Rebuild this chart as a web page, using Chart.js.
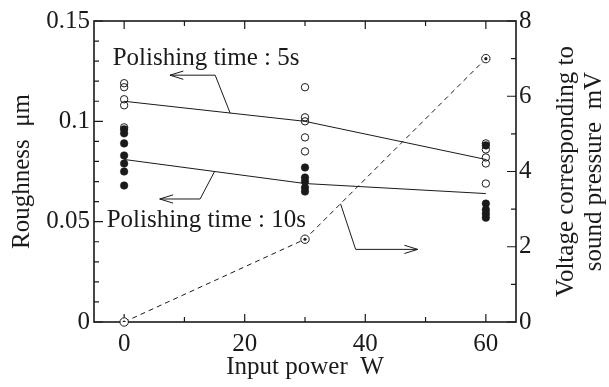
<!DOCTYPE html>
<html>
<head>
<meta charset="utf-8">
<script src="https://cdn.jsdelivr.net/npm/chart.js@4"></script>
<style>
  html, body { margin: 0; padding: 0; background: #fff; }
  #chart { display: block; }
</style>
</head>
<body>
<canvas id="chart" width="609" height="387"></canvas>
<script>
// data
const powerLevels = [0, 30, 60];
const rough5s = [
  [0.119, 0.117, 0.111, 0.108, 0.097],
  [0.117, 0.102, 0.100, 0.092, 0.085],
  [0.089, 0.086, 0.082, 0.079, 0.069]
];
const rough10s = [
  [0.096, 0.094, 0.089, 0.083, 0.079, 0.075, 0.068],
  [0.077, 0.072, 0.070, 0.067, 0.065],
  [0.088, 0.059, 0.056, 0.054, 0.052]
];
const mean5s = [0.110, 0.100, 0.081];
const mean10s = [0.081, 0.069, 0.064];
const voltage = [0, 2.2, 7.0];
const xTicks = [0, 20, 40, 60];
const yTicks = [0, 0.05, 0.1, 0.15];
const y2Ticks = [0, 2, 4, 6, 8];

const ink = '#1a1a1a';
const serif = '"Liberation Serif", "Times New Roman", serif';
const font = { family: serif, size: 25 };

const toPoints = (xs, ys) => xs.map((x, i) => ({ x: x, y: ys[i] }));
const spread = (groups) => powerLevels.flatMap((p, i) => groups[i].map(v => ({ x: p, y: v })));

// frame, inside ticks (under the marks), then arrows and notes on top
const decor = {
  id: 'decor',
  beforeDatasetsDraw(chart) {
    const ctx = chart.ctx;
    const a = chart.chartArea;
    const sx = chart.scales.x, sy = chart.scales.y, sy2 = chart.scales.y2;
    ctx.save();
    ctx.strokeStyle = ink;
    ctx.lineWidth = 1.6;
    ctx.strokeRect(a.left, a.top, a.right - a.left, a.bottom - a.top);

    ctx.lineWidth = 1.2;
    ctx.beginPath();
    for (let v = 0; v <= 60; v += 10) {
      const X = sx.getPixelForValue(v);
      const len = v % 20 === 0 ? 8 : 5;
      ctx.moveTo(X, a.bottom); ctx.lineTo(X, a.bottom - len);
      ctx.moveTo(X, a.top); ctx.lineTo(X, a.top + len);
    }
    for (let i = 0; i <= 15; i++) {
      const Y = sy.getPixelForValue(i / 100);
      const len = i % 5 === 0 ? 9 : 5;
      ctx.moveTo(a.left, Y); ctx.lineTo(a.left + len, Y);
    }
    for (let v = 0; v <= 8; v++) {
      const Y = sy2.getPixelForValue(v);
      const len = v % 2 === 0 ? 9 : 5;
      ctx.moveTo(a.right, Y); ctx.lineTo(a.right - len, Y);
    }
    ctx.stroke();
    ctx.restore();
  },
  afterDatasetsDraw(chart) {
    const ctx = chart.ctx;
    const a = chart.chartArea;
    const sx = chart.scales.x, sy = chart.scales.y, sy2 = chart.scales.y2;
    ctx.save();
    ctx.strokeStyle = ink;
    ctx.fillStyle = ink;

    // arrows
    ctx.lineWidth = 1;
    const arrow = (pts) => {
      ctx.beginPath();
      ctx.moveTo(pts[0][0], pts[0][1]);
      for (let i = 1; i < pts.length; i++) ctx.lineTo(pts[i][0], pts[i][1]);
      ctx.stroke();
      const [tx, ty] = pts[0];
      const [bx, by] = pts[1];
      const ang = Math.atan2(by - ty, bx - tx);
      ctx.beginPath();
      ctx.moveTo(tx + 14 * Math.cos(ang - 0.3), ty + 14 * Math.sin(ang - 0.3));
      ctx.lineTo(tx, ty);
      ctx.lineTo(tx + 14 * Math.cos(ang + 0.3), ty + 14 * Math.sin(ang + 0.3));
      ctx.stroke();
    };
    const P = (x, y, s) => [sx.getPixelForValue(x), (s || sy).getPixelForValue(y)];
    arrow([P(7.6, 0.123), P(15.1, 0.123), P(17.6, 0.104)]);
    arrow([P(5.9, 0.0613), P(12.6, 0.0613), P(15.0, 0.075)]);
    arrow([P(48.7, 1.93, sy2), P(38.4, 1.93, sy2), P(35.9, 3.14, sy2)]);

    ctx.font = '25px ' + serif;
    ctx.textAlign = 'left';
    ctx.textBaseline = 'alphabetic';
    let t = P(-1.9, 0.128);
    ctx.fillText('Polishing time : 5s', t[0], t[1]);
    t = P(-2.9, 0.0475);
    ctx.fillText('Polishing time : 10s', t[0], t[1]);

    // right axis title, reads bottom to top
    const cy = (a.top + a.bottom) / 2;
    ctx.textAlign = 'center';
    [['Voltage corresponding to', 573], ['sound pressure  mV', 601]].forEach(([txt, bx]) => {
      ctx.save();
      ctx.translate(bx, cy);
      ctx.rotate(-Math.PI / 2);
      ctx.fillText(txt, 0, 0);
      ctx.restore();
    });
    ctx.restore();
  }
};

const axisBase = {
  grid: { display: false, drawTicks: false, tickLength: 0 },
  border: { display: false },
};

new Chart(document.getElementById('chart'), {
  type: 'scatter',
  data: {
    datasets: [
      {
        data: spread(rough5s),
        pointRadius: 3.7, pointBorderWidth: 1,
        pointBackgroundColor: 'rgba(0,0,0,0)', pointBorderColor: ink,
        showLine: false
      },
      {
        data: spread(rough10s),
        pointRadius: 3.8, pointBorderWidth: 0.5,
        pointBackgroundColor: ink, pointBorderColor: ink,
        showLine: false
      },
      {
        data: toPoints(powerLevels, mean5s),
        showLine: true, borderColor: ink, borderWidth: 1, pointRadius: 0
      },
      {
        data: toPoints(powerLevels, mean10s),
        showLine: true, borderColor: ink, borderWidth: 1, pointRadius: 0
      },
      {
        data: toPoints(powerLevels, voltage), yAxisID: 'y2',
        pointRadius: 1.6, pointBackgroundColor: ink, pointBorderColor: ink,
        pointBorderWidth: 0, showLine: false
      },
      {
        data: toPoints(powerLevels, voltage), yAxisID: 'y2',
        showLine: true, borderColor: ink, borderWidth: 1, borderDash: [5, 4],
        pointRadius: 4.2, pointBackgroundColor: '#fff', pointBorderColor: ink,
        pointBorderWidth: 1, clip: false
      }
    ]
  },
  options: {
    responsive: false,
    animation: false,
    devicePixelRatio: 1,
    layout: { padding: { top: 21, left: 0, right: 0, bottom: 0 } },
    plugins: { legend: { display: false }, tooltip: { enabled: false } },
    scales: {
      x: Object.assign({}, axisBase, {
        type: 'linear', min: -5, max: 65,
        afterBuildTicks: s => { s.ticks = xTicks.map(v => ({ value: v })); },
        afterFit: s => { s.height = 65; },
        ticks: { font: font, color: ink, padding: 7, maxRotation: 0 },
        title: { display: true, text: 'Input power  W', font: font, color: ink, padding: { top: 0, bottom: 5 } }
      }),
      y: Object.assign({}, axisBase, {
        position: 'left', min: 0, max: 0.15,
        afterBuildTicks: s => { s.ticks = yTicks.map(v => ({ value: v })); },
        afterFit: s => { s.width = 94; },
        ticks: { font: font, color: ink, padding: 4, callback: v => String(+v.toFixed(2)) },
        title: { display: true, text: 'Roughness  μm', font: font, color: ink, padding: { top: 7, bottom: 0 } }
      }),
      y2: Object.assign({}, axisBase, {
        position: 'right', min: 0, max: 8,
        afterBuildTicks: s => { s.ticks = y2Ticks.map(v => ({ value: v })); },
        afterFit: s => { s.width = 93; },
        ticks: { font: font, color: ink, padding: 3 }
      })
    }
  },
  plugins: [decor]
});
</script>
</body>
</html>
